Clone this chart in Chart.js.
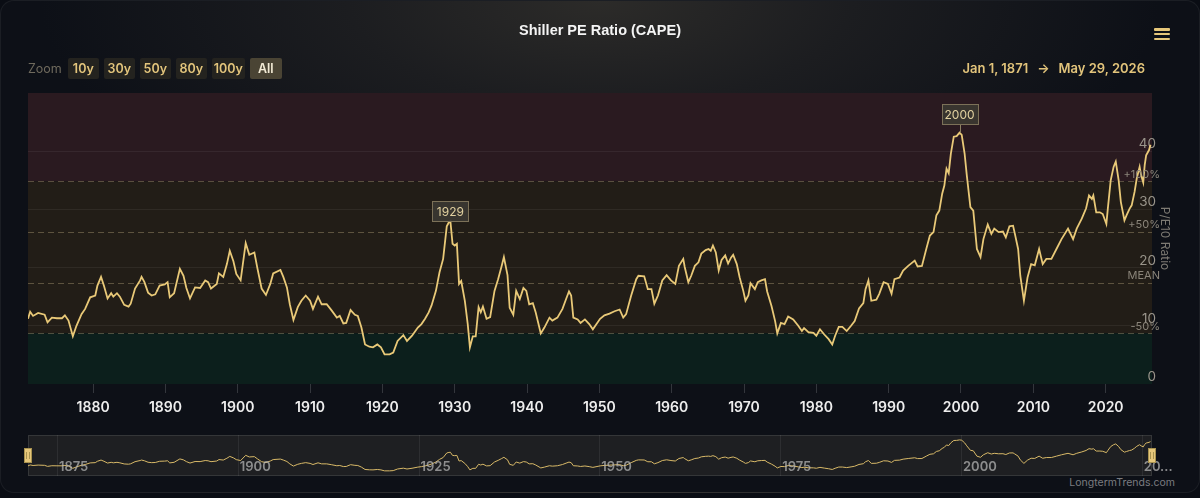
<!DOCTYPE html>
<html>
<head>
<meta charset="utf-8">
<title>Shiller PE Ratio (CAPE)</title>
<script src="https://cdn.jsdelivr.net/npm/chart.js@4.4.1/dist/chart.umd.min.js"></script>
<style>
  html, body { margin: 0; padding: 0; background: #0a0d14; }
  body { width: 1200px; height: 498px; overflow: hidden; position: relative; font-family: Inter, 'Noto Sans', sans-serif; }
  .card {
    position: absolute; left: 0; top: 0; width: 1198px; height: 491px;
    border: 1px solid rgba(255,255,255,0.06); border-radius: 14px;
    background: radial-gradient(ellipse 560px 230px at 50% 0%, #2c2b29 0%, #1c1d20 45%, #0d1017 100%), #0c0f16;
  }
  .title { position: absolute; top: 22px; left: 0; width: 1200px; text-align: center; color: #f4f4f4;
           font: bold 14.5px 'Liberation Sans', Arial, sans-serif; }
  .menu { position: absolute; left: 1154px; top: 28px; width: 16px; }
  .menu div { height: 2.6px; background: #e6c77a; border-radius: 1px; margin-bottom: 2.3px; }
  .zoom { position: absolute; left: 28px; top: 58px; display: flex; align-items: center; gap: 5px; }
  .zoom span { color: #6f6a5d; font-size: 12.5px; margin-right: 1px; }
  .zoom b { display: inline-block; height: 21px; line-height: 21px; text-align: center; background: #24231f;
            color: #e3c57c; font-size: 12.5px; font-weight: 600; border-radius: 2px; }
  .zoom b.on { background: #4a4434; color: #f2ead4; }
  .range { position: absolute; right: 55px; top: 58px; line-height: 21px; color: #e2c47b; font-size: 13px; font-weight: 600; }
  .range i { font-style: normal; margin: 0 9px; }
  #main { position: absolute; left: 0; top: 0; }
  #nav { position: absolute; left: 0; top: 435px; }
  .credit { position: absolute; right: 25px; top: 476px; color: #7b7c80; font-size: 10.5px; }
</style>
</head>
<body>
<div class="card"></div>
<canvas id="main" width="1200" height="425"></canvas>
<canvas id="nav" width="1200" height="41"></canvas>
<div class="title">Shiller PE Ratio (CAPE)</div>
<div class="menu"><div></div><div></div><div></div></div>
<div class="zoom">
  <span>Zoom</span>
  <b style="width:31px">10y</b><b style="width:31px">30y</b><b style="width:31px">50y</b>
  <b style="width:31px">80y</b><b style="width:33px">100y</b><b class="on" style="width:32px">All</b>
</div>
<div class="range">Jan 1, 1871<i>→</i>May 29, 2026</div>
<div class="credit">LongtermTrends.com</div>

<script>
// CAPE readings (fractional year, P/E10)
var years = [
  1871.0, 1871.3, 1871.7, 1872.4, 1873.3, 1873.7, 1874.3, 1875.0, 1875.7, 1876.1, 1876.6, 1877.2, 1877.7, 1878.4, 1878.9, 1879.6,
  1880.3, 1880.6, 1881.1, 1881.5, 1882.0, 1882.5, 1882.8, 1883.3, 1883.7, 1884.3, 1884.9, 1885.2, 1885.8, 1886.5, 1886.7, 1887.1,
  1887.6, 1888.1, 1888.6, 1889.2, 1889.9, 1890.3, 1890.6, 1891.2, 1892.0, 1892.5, 1892.9, 1893.4, 1894.1, 1894.8, 1895.5, 1895.9,
  1896.3, 1897.1, 1897.4, 1898.0, 1898.5, 1898.9, 1899.4, 1899.8, 1900.4, 1901.1, 1901.6, 1902.3, 1902.7, 1903.3, 1903.9, 1904.5,
  1904.9, 1905.9, 1906.3, 1906.8, 1907.2, 1907.7, 1908.3, 1908.8, 1909.4, 1910.0, 1910.4,
  1911.1, 1911.6, 1912.3, 1913.0, 1913.7, 1914.1, 1914.6, 1915.0, 1915.6, 1916.2, 1916.6, 1917.1, 1917.6, 1918.2, 1918.7, 1919.3,
  1919.8, 1920.3, 1921.0, 1921.5, 1922.1, 1922.9, 1923.4, 1924.1, 1924.9, 1925.4, 1925.9, 1926.4, 1926.8, 1927.4, 1927.9, 1928.4,
  1928.9, 1929.2, 1929.4, 1929.7, 1930.0, 1930.3, 1930.6, 1930.9, 1931.4, 1931.8, 1932.1, 1932.5, 1932.9, 1933.3, 1933.6, 1933.9,
  1934.4, 1934.9, 1935.5, 1936.0, 1936.5, 1936.8, 1937.3, 1937.6, 1938.1, 1938.5, 1939.0, 1939.5, 1939.9, 1940.3, 1940.8, 1941.2,
  1941.9, 1942.4, 1943.1, 1943.5, 1944.2, 1944.9, 1945.4, 1945.8, 1946.1, 1946.4, 1947.0, 1947.4, 1948.0, 1948.6,
  1949.1, 1950.1, 1950.7, 1951.4, 1952.1, 1952.8, 1953.3, 1953.7, 1954.4, 1955.1, 1955.4, 1956.2, 1956.7, 1957.2, 1957.6, 1958.1,
  1958.7, 1959.3, 1959.9, 1960.5, 1961.0, 1961.6, 1961.8, 1962.3, 1962.7, 1963.2, 1963.7, 1964.1, 1964.7, 1965.1, 1965.4, 1965.7,
  1966.1, 1966.5, 1966.9, 1967.4, 1967.8, 1968.2, 1968.5, 1969.0, 1969.4, 1969.9, 1970.2, 1970.6, 1970.9, 1971.5, 1971.9, 1972.4,
  1972.9, 1973.2, 1973.8, 1974.3, 1974.6, 1975.1, 1975.6, 1976.1, 1976.8, 1977.5, 1978.0, 1978.3, 1978.9, 1979.6, 1980.0, 1980.5,
  1981.1, 1981.7, 1982.2, 1982.6, 1983.1, 1983.6, 1984.2, 1984.8, 1985.3, 1985.9,
  1986.5, 1986.8, 1987.2, 1987.6, 1988.3, 1988.7, 1989.3, 1989.9, 1990.4, 1990.8, 1991.5, 1992.0, 1992.7, 1993.6, 1994.0, 1994.6,
  1995.2, 1995.7, 1996.2, 1996.6, 1997.0, 1997.4, 1997.7, 1998.0, 1998.3, 1998.6, 1999.0, 1999.4, 1999.8, 2000.1, 2000.5, 2000.8,
  2001.3, 2001.7, 2002.2, 2002.7, 2003.1, 2003.7, 2004.2, 2004.6, 2005.2, 2005.8, 2006.2, 2006.7, 2007.2, 2007.4, 2007.9, 2008.2,
  2008.7, 2009.2, 2009.7, 2010.2, 2010.8, 2011.3, 2011.8, 2012.5, 2013.2, 2013.9, 2014.8, 2015.5, 2016.0, 2016.7, 2017.3, 2017.7,
  2018.1, 2018.3, 2018.7, 2019.2, 2019.6, 2020.1, 2020.3, 2020.7, 2021.1, 2021.4, 2021.8, 2022.1, 2022.6, 2022.9, 2023.3, 2023.6,
  2024.0, 2024.3, 2024.7, 2024.9, 2025.2, 2025.4, 2025.6, 2026.0, 2026.2
];
var cape = [
  11.2, 12.4, 11.7, 12.2, 11.9, 10.6, 11.4, 11.3, 11.3, 11.8, 10.9, 8.2, 10.0, 12.0, 12.9, 14.9,
  15.2, 16.9, 18.4, 16.9, 14.7, 15.6, 15.0, 15.6, 15.0, 13.6, 13.3, 13.8, 16.4, 17.8, 18.4, 17.5,
  15.7, 15.2, 15.4, 16.9, 17.1, 17.5, 14.9, 15.6, 19.8, 18.6, 16.5, 14.7, 16.6, 16.5, 17.8, 17.5,
  16.4, 17.2, 19.0, 18.4, 20.6, 22.9, 21.1, 18.9, 17.8, 24.2, 22.2, 22.6, 20.0, 16.4, 15.3, 17.2,
  19.0, 19.6, 18.4, 16.6, 13.7, 11.0, 13.2, 14.3, 15.2, 14.3, 12.9,
  15.0, 13.7, 13.7, 12.6, 11.4, 11.7, 10.4, 10.5, 12.7, 11.9, 11.7, 9.7, 6.8, 6.4, 6.3, 6.8,
  6.3, 5.1, 5.1, 5.4, 7.4, 8.4, 7.4, 8.3, 9.7, 10.3, 11.2, 12.3, 13.5, 16.0, 19.2, 21.5,
  27.1, 27.8, 28.0, 24.1, 23.8, 24.1, 17.2, 17.7, 14.3, 10.3, 6.3, 8.2, 8.2, 13.2, 12.3, 13.3,
  11.2, 11.5, 16.0, 18.0, 20.3, 21.8, 18.7, 13.1, 11.9, 16.0, 14.6, 16.5, 16.0, 13.7, 13.9, 12.3,
  8.7, 9.7, 11.4, 10.9, 11.4, 12.9, 14.6, 15.9, 15.2, 11.4, 11.1, 10.5, 11.1, 10.3,
  9.4, 11.2, 11.8, 12.1, 12.5, 12.8, 11.4, 12.0, 15.2, 18.0, 18.6, 18.5, 16.3, 16.3, 13.8, 15.2,
  17.8, 18.7, 17.8, 17.2, 20.3, 21.5, 20.1, 17.5, 18.6, 20.3, 20.9, 22.4, 23.0, 23.2, 22.9, 23.8,
  22.6, 19.5, 21.3, 22.1, 20.7, 21.7, 22.2, 20.6, 18.3, 16.0, 14.3, 15.2, 17.3, 16.3, 17.5, 17.8,
  18.0, 15.9, 13.4, 10.8, 8.7, 10.5, 10.3, 11.6, 11.1, 10.0, 9.1, 9.6, 8.9, 8.8, 8.3, 9.4,
  8.5, 7.7, 6.8, 8.3, 9.8, 9.8, 9.1, 10.0, 10.8, 13.0,
  13.9, 16.3, 17.8, 14.3, 14.5, 15.5, 17.5, 17.2, 15.5, 18.0, 18.3, 19.5, 20.3, 21.2, 20.2, 20.3,
  23.2, 25.5, 26.1, 29.0, 29.8, 32.7, 34.1, 37.0, 36.2, 39.6, 42.5, 42.6, 43.2, 42.8, 39.6, 35.9,
  30.4, 29.8, 23.2, 21.8, 24.9, 27.4, 25.8, 26.7, 26.1, 26.2, 25.2, 27.1, 27.2, 26.1, 23.2, 18.6,
  14.3, 18.3, 20.6, 20.4, 23.2, 20.6, 21.5, 21.5, 23.2, 24.9, 26.7, 24.9, 26.7, 28.4, 30.2, 32.4,
  31.8, 32.4, 29.5, 29.5, 29.2, 27.5, 30.1, 35.0, 37.3, 38.2, 35.0, 31.3, 28.1, 29.0, 30.1, 30.7,
  33.0, 35.3, 37.3, 35.9, 34.6, 37.6, 39.3, 40.2, 41.1
];

var startYear = 1871;
var endYear = 2026.41;   // May 29, 2026
var xTicks = [1880, 1890, 1900, 1910, 1920, 1930, 1940, 1950, 1960, 1970, 1980, 1990, 2000, 2010, 2020];
var yTicks = [0, 10, 20, 30, 40];
var navTicks = [1875, 1900, 1925, 1950, 1975, 2000, 2025];
var navLabels = ['1875', '1900', '1925', '1950', '1975', '2000', '20...'];

// mean and the +100% / +50% / -50% levels around it
var refLabels = ['+100%', '+50%', 'MEAN', '-50%'];
var refValues = [34.8, 26.1, 17.4, 8.7];

var peakLabels = ['1929', '2000'];
var peakYears = [1929.4, 1999.8];
var peakValues = [28.0, 43.2];

var points = years.map(function(yr, i) { return { x: yr, y: cape[i] }; });

var gold = '#e9c978';

var bandsPlugin = {
    id: 'bands',
    beforeDraw: function(chart) {
        var ctx = chart.ctx, a = chart.chartArea, y = chart.scales.y;
        var top = y.getPixelForValue(refValues[0]);
        var low = y.getPixelForValue(refValues[3]);
        ctx.save();
        ctx.fillStyle = '#2a1a20';
        ctx.fillRect(a.left, a.top, a.right - a.left, top - a.top);
        ctx.fillStyle = '#221d17';
        ctx.fillRect(a.left, top, a.right - a.left, low - top);
        ctx.fillStyle = '#0c1f1c';
        ctx.fillRect(a.left, low, a.right - a.left, a.bottom - low);
        ctx.restore();
    },
    beforeDatasetsDraw: function(chart) {
        var ctx = chart.ctx, a = chart.chartArea, y = chart.scales.y;
        ctx.save();
        ctx.strokeStyle = 'rgba(190,170,130,0.38)';
        ctx.lineWidth = 1;
        ctx.setLineDash([6, 4]);
        refValues.forEach(function(v) {
            var py = Math.round(y.getPixelForValue(v)) + 0.5;
            ctx.beginPath();
            ctx.moveTo(a.left, py);
            ctx.lineTo(a.right, py);
            ctx.stroke();
        });
        ctx.restore();
    },
    afterDatasetsDraw: function(chart) {
        var ctx = chart.ctx, a = chart.chartArea, x = chart.scales.x, y = chart.scales.y;
        ctx.save();
        ctx.font = '11px Inter';
        ctx.fillStyle = '#8b857a';
        ctx.textAlign = 'right';
        ctx.textBaseline = 'middle';
        refValues.forEach(function(v, i) {
            ctx.fillText(refLabels[i], a.right + 8, y.getPixelForValue(v) - 7);
        });

        // peak labels
        var lift = [0, 9];
        ctx.font = '12px Inter';
        ctx.textAlign = 'center';
        peakLabels.forEach(function(lab, i) {
            var px = x.getPixelForValue(peakYears[i]);
            var py = y.getPixelForValue(peakValues[i]);
            var bw = 36, bh = 20;
            var bx = Math.round(px - bw / 2) + 0.5;
            var by = Math.round(py - lift[i] - bh) + 0.5;
            if (lift[i] > 0) {
                ctx.strokeStyle = '#8c8062';
                ctx.beginPath();
                ctx.moveTo(Math.round(px) + 0.5, by + bh);
                ctx.lineTo(Math.round(px) + 0.5, py);
                ctx.stroke();
            }
            ctx.fillStyle = 'rgba(58,55,48,0.95)';
            ctx.fillRect(bx, by, bw, bh);
            ctx.strokeStyle = '#7c7158';
            ctx.strokeRect(bx, by, bw, bh);
            ctx.fillStyle = '#e2d1a0';
            ctx.fillText(lab, px, by + bh / 2 + 0.5);
        });
        ctx.restore();
    }
};

new Chart(document.getElementById('main'), {
    type: 'line',
    data: {
        datasets: [{
            data: points,
            borderColor: gold,
            borderWidth: 1.8,
            pointRadius: 0,
            tension: 0,
            fill: false
        }]
    },
    options: {
        responsive: false,
        animation: false,
        layout: { padding: { left: 28, top: 93, right: 24, bottom: 0 } },
        plugins: { legend: { display: false }, tooltip: { enabled: false } },
        scales: {
            x: {
                type: 'linear',
                min: startYear,
                max: endYear,
                afterBuildTicks: function(s) { s.ticks = xTicks.map(function(v) { return { value: v }; }); },
                afterFit: function(s) { s.height = 41; },
                grid: { drawOnChartArea: false, drawTicks: true, tickLength: 9, color: 'rgba(255,255,255,0.16)' },
                border: { display: false },
                ticks: {
                    padding: 6,
                    autoSkip: false,
                    maxRotation: 0,
                    color: '#eeeeee',
                    font: { family: 'Inter', size: 14, weight: '600' },
                    callback: function(v) { return String(v); }
                }
            },
            y: {
                position: 'right',
                min: 0,
                max: 50,
                afterBuildTicks: function(s) { s.ticks = yTicks.map(function(v) { return { value: v }; }); },
                afterFit: function(s) { s.width = 24; },
                grid: {
                    drawTicks: false,
                    color: function(c) { return c.tick && c.tick.value === 0 ? 'rgba(0,0,0,0)' : 'rgba(255,255,255,0.06)'; }
                },
                border: { display: false },
                ticks: {
                    mirror: true,
                    padding: 4,
                    labelOffset: -7,
                    color: '#9a958b',
                    font: { family: 'Inter', size: 13.5 }
                },
                title: {
                    display: true,
                    text: 'P/E10 Ratio',
                    color: '#7d7a73',
                    font: { family: 'Inter', size: 12 },
                    padding: { top: 4, bottom: 0 }
                }
            }
        }
    },
    plugins: [bandsPlugin]
});

// navigator strip under the chart
var navPlugin = {
    id: 'navbox',
    beforeDraw: function(chart) {
        var ctx = chart.ctx, a = chart.chartArea, x = chart.scales.x;
        ctx.save();
        ctx.fillStyle = 'rgba(255,235,180,0.07)';
        ctx.fillRect(a.left, 0, a.right - a.left, chart.height);
        ctx.strokeStyle = 'rgba(255,255,255,0.1)';
        ctx.strokeRect(a.left + 0.5, 0.5, a.right - a.left - 1, chart.height - 1);
        ctx.strokeStyle = 'rgba(255,255,255,0.07)';
        navTicks.forEach(function(v) {
            var px = Math.round(x.getPixelForValue(v)) + 0.5;
            ctx.beginPath();
            ctx.moveTo(px, 0);
            ctx.lineTo(px, chart.height);
            ctx.stroke();
        });
        ctx.restore();
    },
    afterDatasetsDraw: function(chart) {
        var ctx = chart.ctx, a = chart.chartArea, x = chart.scales.x;
        ctx.save();
        ctx.font = '600 13px Inter';
        ctx.fillStyle = 'rgba(185,185,185,0.72)';
        ctx.textAlign = 'left';
        ctx.textBaseline = 'middle';
        navTicks.forEach(function(v, i) {
            ctx.fillText(navLabels[i], x.getPixelForValue(v) + 2, chart.height - 9);
        });
        // handles
        [a.left, a.right].forEach(function(hx) {
            ctx.fillStyle = '#e6c77a';
            ctx.fillRect(hx - 4, 13, 8, 15);
            ctx.strokeStyle = '#a8924f';
            ctx.strokeRect(hx - 3.5, 13.5, 7, 14);
            ctx.beginPath();
            ctx.moveTo(hx - 1.5, 17); ctx.lineTo(hx - 1.5, 24);
            ctx.moveTo(hx + 1.5, 17); ctx.lineTo(hx + 1.5, 24);
            ctx.stroke();
        });
        ctx.restore();
    }
};

new Chart(document.getElementById('nav'), {
    type: 'line',
    data: {
        datasets: [{
            data: points,
            borderColor: '#d9b968',
            borderWidth: 1,
            pointRadius: 0,
            tension: 0,
            fill: false
        }]
    },
    options: {
        responsive: false,
        animation: false,
        layout: { padding: { left: 28, right: 48, top: 1, bottom: 1 } },
        plugins: { legend: { display: false }, tooltip: { enabled: false } },
        scales: {
            x: { type: 'linear', min: startYear, max: endYear, display: false },
            y: { min: 0, max: 48, display: false }
        }
    },
    plugins: [navPlugin]
});
</script>
</body>
</html>
